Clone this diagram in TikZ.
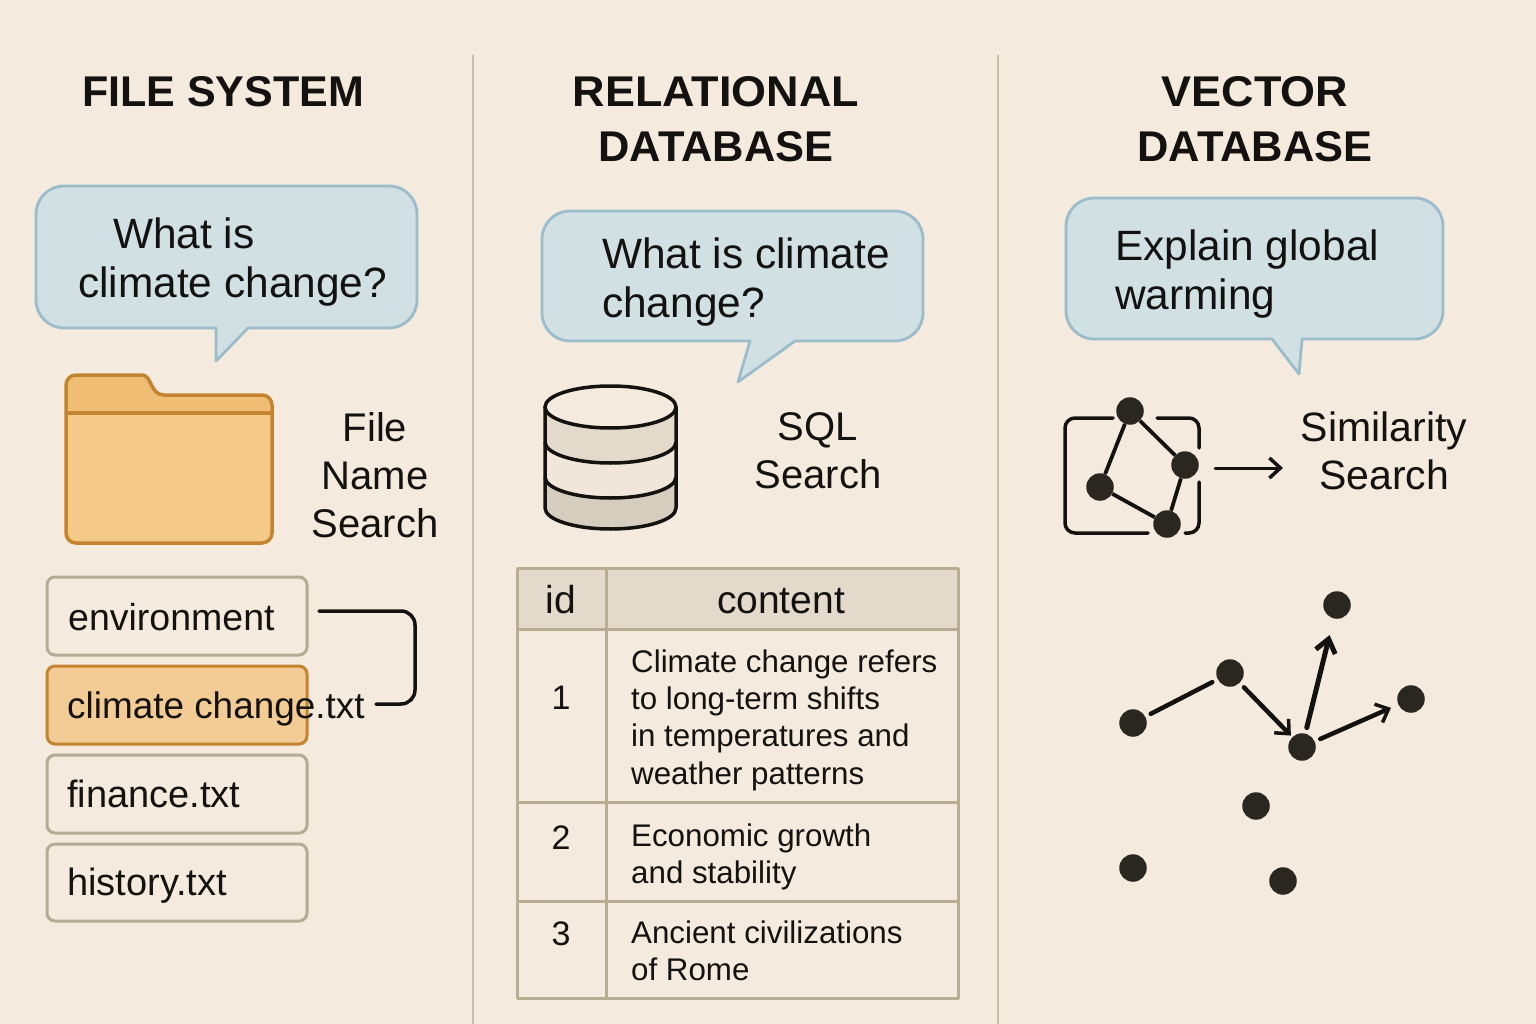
\documentclass[tikz,border=0pt]{standalone}
\usepackage{fontspec}
\setmainfont{Liberation Sans}
\usetikzlibrary{arrows.meta}
\definecolor{paper}{HTML}{F4EBDE}
\definecolor{rulecol}{HTML}{C9BEA8}
\definecolor{bubfill}{HTML}{D0E0E3}
\definecolor{bubline}{HTML}{9BBCCB}
\definecolor{foldfill}{HTML}{F5C988}
\definecolor{foldtop}{HTML}{F0BD75}
\definecolor{foldline}{HTML}{C4842F}
\definecolor{boxline}{HTML}{B5AB94}
\definecolor{hilite}{HTML}{F3CB94}
\definecolor{ink}{HTML}{141210}
\definecolor{dot}{HTML}{2A2620}
\definecolor{bandA}{HTML}{E3DACB}
\definecolor{bandB}{HTML}{F0E7DA}
\definecolor{bandC}{HTML}{D5CDBE}
\definecolor{tabline}{HTML}{B9AE94}
\tikzset{
  x=1pt,y=-1pt,
  title/.style={inner sep=0pt,align=center,text=ink,font=\fontsize{43}{55}\selectfont\bfseries},
  bubtext/.style={inner sep=0pt,align=left,anchor=west,text=ink,font=\fontsize{42.4}{49.5}\selectfont},
  label/.style={inner sep=0pt,align=center,text=ink,font=\fontsize{40}{48}\selectfont},
  filetext/.style={inner sep=0pt,anchor=base west,text=ink,font=\fontsize{38}{44}\selectfont},
  cellhead/.style={inner sep=0pt,anchor=base,text=ink,font=\fontsize{39}{44}\selectfont},
  cellnum/.style={inner sep=0pt,anchor=base,text=ink,font=\fontsize{34}{40}\selectfont},
  celltext/.style={inner sep=0pt,align=left,anchor=west,text=ink,font=\fontsize{31.3}{37.3}\selectfont},
  bubble/.style={draw=bubline,fill=bubfill,line width=2.8pt,line join=round},
  filebox/.style={draw=boxline,line width=3pt,rounded corners=8pt},
  dotnode/.style={circle,fill=dot,inner sep=0pt,minimum size=27.5pt},
  link/.style={draw=ink,line width=4.5pt,line cap=round},
  icon link/.style={draw=ink,line width=3.8pt},
  thin link/.style={draw=ink,line width=3.5pt,line cap=round},
  barb/.style={-{Straight Barb[length=11pt,width=20pt,line width=3.5pt]}},
}
\begin{document}
\begin{tikzpicture}
\path[use as bounding box,fill=paper] (0,0) rectangle (1536,1024);
% dividers
\coordinate (d1a) at (473,55); \coordinate (d1b) at (473,1024);
\coordinate (d2a) at (998,55); \coordinate (d2b) at (998,1024);
\draw[rulecol,line width=2.5pt] (d1a) -- (d1b);
\draw[rulecol,line width=2.5pt] (d2a) -- (d2b);
% titles
\node[title] (t1) at (223,92) {FILE SYSTEM};
\node[title] (t2) at (716,119) {\scalebox{1.045}[1]{RELATIONAL}\\\scalebox{1.01}[1]{DATABASE}};
\node[title] (t3) at (1255,119) {\scalebox{1.045}[1]{VECTOR}\\\scalebox{1.01}[1]{DATABASE}};
% bubbles
\draw[bubble] (64,186) -- (389,186) arc[start angle=-90,end angle=0,radius=28] -- (417,300) arc[start angle=0,end angle=90,radius=28] -- (248,328) -- (216,361) -- (216,328) -- (64,328) arc[start angle=90,end angle=180,radius=28] -- (36,214) arc[start angle=180,end angle=270,radius=28] -- cycle;
\draw[bubble] (570,211) -- (895,211) arc[start angle=-90,end angle=0,radius=28] -- (923,313) arc[start angle=0,end angle=90,radius=28] -- (795,341) -- (738,382) -- (750,341) -- (570,341) arc[start angle=90,end angle=180,radius=28] -- (542,239) arc[start angle=180,end angle=270,radius=28] -- cycle;
\draw[bubble] (1094,198) -- (1415,198) arc[start angle=-90,end angle=0,radius=28] -- (1443,311) arc[start angle=0,end angle=90,radius=28] -- (1302,339) -- (1299,374) -- (1272,339) -- (1094,339) arc[start angle=90,end angle=180,radius=28] -- (1066,226) arc[start angle=180,end angle=270,radius=28] -- cycle;
\node[bubtext] (q1) at (78,262) {\hspace{35pt}What is\\climate change?};
\node[bubtext] (q2) at (602,282) {What is climate\\change?};
\node[bubtext] (q3) at (1115,274) {Explain global\\warming};
% folder
\draw[foldline,fill=foldtop,line width=3.5pt,line join=round] (66,413) -- (66,385) arc[start angle=180,end angle=270,radius=10] -- (142,375) .. controls (152,375) and (150,395) .. (164,395) -- (262,395) arc[start angle=-90,end angle=0,radius=10] -- (272,413) -- cycle;
\draw[foldline,fill=foldfill,line width=3.5pt,line join=round] (66,413) -- (272,413) -- (272,533) arc[start angle=0,end angle=90,radius=10] -- (76,543) arc[start angle=90,end angle=180,radius=10] -- cycle;
\node[label] (l1) at (375,475) {File\\Name\\Search};
% file boxes
\node[filebox,minimum width=260pt,minimum height=78pt,inner sep=0pt] (b1) at (177,616) {};
\node[filebox,draw=foldline,fill=hilite,minimum width=260pt,minimum height=78pt,inner sep=0pt] (b2) at (177,705) {};
\node[filebox,minimum width=260pt,minimum height=78pt,inner sep=0pt] (b3) at (177,794) {};
\node[filebox,minimum width=260pt,minimum height=77pt,inner sep=0pt] (b4) at (177,882.5) {};
\node[filetext,font=\fontsize{37.5}{44}\selectfont] (f1) at (68,630) {environment};
\node[filetext,font=\fontsize{36.9}{44}\selectfont] (f2) at (67,718) {climate change.txt};
\node[filetext] (f3) at (67,807) {finance.txt};
\node[filetext] (f4) at (67,895) {history.txt};
\coordinate (c1) at (319,611);
\coordinate (c2) at (376,704);
\draw[thin link,rounded corners=14pt] (c1) -- (415,611) -- (415,704) -- (c2);
% database cylinder
\fill[bandC] (545,477) -- (545,508) arc[start angle=180,end angle=0,x radius=65.5,y radius=21] -- (676,477) arc[start angle=0,end angle=180,x radius=65.5,y radius=21] -- cycle;
\fill[bandB] (545,442) -- (545,477) arc[start angle=180,end angle=0,x radius=65.5,y radius=21] -- (676,442) arc[start angle=0,end angle=180,x radius=65.5,y radius=21] -- cycle;
\fill[bandA] (545,407) -- (545,442) arc[start angle=180,end angle=0,x radius=65.5,y radius=21] -- (676,407) -- cycle;
\draw[ink,line width=3.5pt,line join=round] (545,407) -- (545,508) arc[start angle=180,end angle=0,x radius=65.5,y radius=21] -- (676,407);
\draw[ink,line width=3.5pt] (545,442) arc[start angle=180,end angle=0,x radius=65.5,y radius=21];
\draw[ink,line width=3.5pt] (545,477) arc[start angle=180,end angle=0,x radius=65.5,y radius=21];
\draw[ink,fill=paper,line width=3.5pt] (610.5,407) ellipse[x radius=65.5,y radius=21];
\node[label] (l2) at (818,451) {SQL\\Search};
% table
\fill[bandA] (517,568) rectangle (958,629);
\draw[tabline,line width=3pt,line join=round] (517,568) rectangle (958,998);
\draw[tabline,line width=3pt] (606,568) -- (606,998);
\draw[tabline,line width=3pt] (517,629) -- (958,629);
\draw[tabline,line width=3pt] (517,802) -- (958,802);
\draw[tabline,line width=3pt] (517,901) -- (958,901);
\node[cellhead] (h1) at (561,613) {id};
\node[cellhead] (h2) at (781,613) {content};
\node[cellnum] (n1) at (561,709) {1};
\node[cellnum] (n2) at (561,849) {2};
\node[cellnum] (n3) at (561,945) {3};
\node[celltext] (r1) at (631,720) {Climate change refers\\to long-term shifts\\in temperatures and\\weather patterns};
\node[celltext] (r2) at (631,857) {Economic growth\\and stability};
\node[celltext] (r3) at (631,951) {Ancient civilizations\\of Rome};
% vector icon
\draw[ink,line width=3.5pt,line cap=round,rounded corners=10pt] (1113,418) -- (1065,418) -- (1065,533) -- (1148,533);
\draw[ink,line width=3.5pt,line cap=round,rounded corners=10pt] (1157,418) -- (1199,418) -- (1199,448);
\draw[ink,line width=3.5pt,line cap=round,rounded corners=10pt] (1199,482) -- (1199,533) -- (1185,533);
\node[dotnode] (v1) at (1130,411) {};
\node[dotnode] (v2) at (1185,465) {};
\node[dotnode] (v3) at (1100,487) {};
\node[dotnode] (v4) at (1167,524) {};
\draw[icon link] (v1) -- (v2);
\draw[icon link] (v1) -- (v3);
\draw[icon link] (v3) -- (v4);
\draw[icon link] (v2) -- (v4);
\coordinate (a1) at (1215,468);
\coordinate (a2) at (1283,468);
\draw[thin link,line width=3pt,barb] (a1) -- (a2);
\node[label,font=\fontsize{41}{48}\selectfont] (l3) at (1384,451) {Similarity\\Search};
% vector scatter
\node[dotnode] (p1) at (1133,723) {};
\node[dotnode] (p2) at (1230,673) {};
\node[dotnode] (p3) at (1302,747) {};
\node[dotnode] (p4) at (1337,605) {};
\node[dotnode] (p5) at (1411,699) {};
\node[dotnode] (p6) at (1256,806) {};
\node[dotnode] (p7) at (1133,868) {};
\node[dotnode] (p8) at (1283,881) {};
\draw[link,shorten <=6pt,shorten >=6pt] (p1) -- (p2);
\draw[link,barb,shorten <=6pt,shorten >=2pt] (p2) -- (p3);
\draw[link,line width=5pt,-{Straight Barb[length=13pt,width=20pt,line width=5pt]},shorten <=6pt,shorten >=17pt] (p3) -- (p4);
\draw[link,barb,shorten <=6pt,shorten >=8pt] (p3) -- (p5);
\end{tikzpicture}
\end{document}
